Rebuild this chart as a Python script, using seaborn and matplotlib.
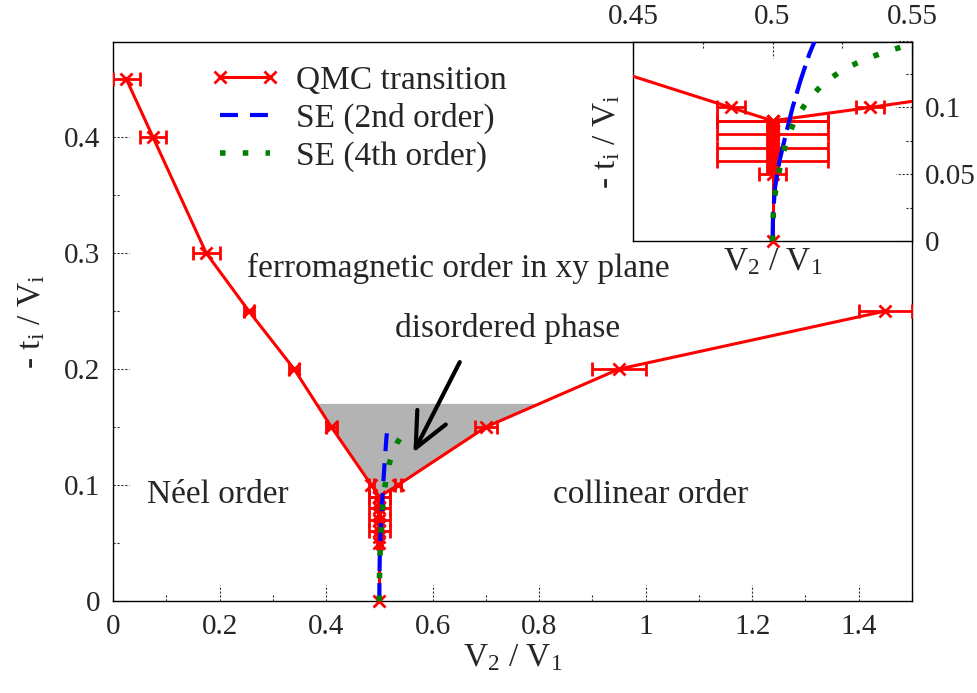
import numpy as np
import pandas as pd
import matplotlib
matplotlib.use("Agg")
import matplotlib.pyplot as plt
from matplotlib.lines import Line2D
from matplotlib.patches import FancyArrowPatch, ArrowStyle
import seaborn as sns

# ---------------- data ----------------
# QMC transition: left branch (Neel / ferro boundary)
qmc_left_x = [0.025, 0.075, 0.175, 0.255, 0.34, 0.41, 0.485, 0.5]
qmc_left_y = [0.45, 0.40, 0.30, 0.25, 0.20, 0.15, 0.10, 0.09]
qmc_left_xerr = [0.025, 0.025, 0.025, 0.01, 0.01, 0.01, 0.005, 0.02]
# vertical branch at V2/V1 = 0.5
qmc_mid_x = [0.5, 0.5, 0.5, 0.5, 0.5, 0.5, 0.5, 0.5, 0.5, 0.5]
qmc_mid_y = [0.09, 0.085, 0.08, 0.075, 0.07, 0.065, 0.06, 0.055, 0.05, 0.0]
qmc_mid_xerr = [0.02, 0.002, 0.02, 0.002, 0.02, 0.002, 0.02, 0.002, 0.005, 0.0]
# right branch (collinear / ferro boundary)
qmc_right_x = [0.5, 0.535, 0.70, 0.95, 1.45]
qmc_right_y = [0.09, 0.10, 0.15, 0.20, 0.25]
qmc_right_xerr = [0.02, 0.005, 0.02, 0.05, 0.05]

# series expansion, 2nd order
se2_x = [0.5, 0.5002, 0.5009, 0.5025, 0.5048, 0.5072, 0.5100, 0.5132, 0.5152]
se2_y = [0.0, 0.02, 0.04, 0.06, 0.08, 0.10, 0.12, 0.14, 0.15]
# series expansion, 4th order
se4_x = [0.5, 0.5003, 0.5011, 0.5027, 0.5047, 0.5077, 0.5125, 0.518, 0.525, 0.533, 0.541, 0.55]
se4_y = [0.0, 0.0208, 0.0378, 0.0555, 0.0725, 0.0892, 0.105, 0.1175, 0.128, 0.136, 0.142, 0.1475]

disordered_top = 0.17

main_xticks = [0, 0.2, 0.4, 0.6, 0.8, 1.0, 1.2, 1.4]
main_xticklabels = ["0", "0.2", "0.4", "0.6", "0.8", "1", "1.2", "1.4"]
main_yticks = [0, 0.1, 0.2, 0.3, 0.4]
main_yticklabels = ["0", "0.1", "0.2", "0.3", "0.4"]
inset_xticks = [0.45, 0.5, 0.55]
inset_xticklabels = ["0.45", "0.5", "0.55"]
inset_yticks = [0, 0.05, 0.1]
inset_yticklabels = ["0", "0.05", "0.1"]

# ---------------- style ----------------
sns.set_theme(style="white")
plt.rcParams["font.family"] = ["Liberation Serif", "DejaVu Serif"]
plt.rcParams["mathtext.fontset"] = "custom"
plt.rcParams["mathtext.rm"] = "Liberation Serif"
plt.rcParams["mathtext.it"] = "Liberation Serif:italic"
plt.rcParams["axes.edgecolor"] = "black"
plt.rcParams["axes.linewidth"] = 1.0

FS_TICK = 21
FS = 24
RED = "#ff0000"
BLUE = "#0000ff"
GREEN = "#008000"

W, H = 977, 693
fig = plt.figure(figsize=(W / 100, H / 100), dpi=100)
main_rect = [113 / W, 1 - 601 / H, (912 - 113) / W, (601 - 42) / H]
inset_rect = [633 / W, 1 - 241 / H, (912 - 633) / W, (241 - 42) / H]
ax = fig.add_axes(main_rect)
axi = fig.add_axes(inset_rect)
axi.set_zorder(5)

ax.set_xlim(0, 1.5)
ax.set_ylim(0, 0.482)
axi.set_xlim(0.45, 0.55)
axi.set_ylim(0, 0.149)

def draw_curves(a, se2_dash, se4_dash):
    x0, x1 = a.get_xlim()
    y0, y1 = a.get_ylim()
    for xs, ys in [(qmc_left_x, qmc_left_y), (qmc_mid_x, qmc_mid_y), (qmc_right_x, qmc_right_y)]:
        df = pd.DataFrame({"x": xs, "y": ys})
        sns.lineplot(data=df, x="x", y="y", ax=a, sort=False, estimator=None,
                     color=RED, lw=2.2, zorder=3, legend=False)
    for xs, ys, xe in [(qmc_left_x, qmc_left_y, qmc_left_xerr),
                       (qmc_mid_x, qmc_mid_y, qmc_mid_xerr),
                       (qmc_right_x, qmc_right_y, qmc_right_xerr)]:
        a.errorbar(xs, ys, xerr=xe, fmt="none", ecolor=RED, elinewidth=2.0,
                   capsize=4.8, capthick=2.0, zorder=3)
        xs_a = np.array(xs); ys_a = np.array(ys)
        m = (xs_a >= x0) & (xs_a <= x1) & (ys_a >= y0) & (ys_a <= y1)
        a.plot(xs_a[m], ys_a[m], "x", color=RED, ms=8.5, mew=2.0, zorder=4, clip_on=False)
    d2 = pd.DataFrame({"x": se2_x, "y": se2_y})
    sns.lineplot(data=d2, x="x", y="y", ax=a, sort=False, estimator=None,
                 color=BLUE, lw=3.0, ls=(0, se2_dash), zorder=5, legend=False)
    d4 = pd.DataFrame({"x": se4_x, "y": se4_y})
    sns.lineplot(data=d4, x="x", y="y", ax=a, sort=False, estimator=None,
                 color=GREEN, lw=4.0, ls=(0, se4_dash), zorder=6, legend=False,
                 dash_capstyle="butt")
    a.set_xlim(x0, x1)
    a.set_ylim(y0, y1)

# ---------------- main axes ----------------
# grey disordered region built from QMC branches below disordered_top
lx = np.array(qmc_left_x); ly = np.array(qmc_left_y)
rx = np.array(qmc_right_x); ry = np.array(qmc_right_y)
xl = np.interp(disordered_top, ly[::-1], lx[::-1])
xr = np.interp(disordered_top, ry, rx)
poly_x = [xl] + list(lx[ly < disordered_top]) + list(rx[1:][ry[1:] < disordered_top]) + [xr]
poly_y = [disordered_top] + list(ly[ly < disordered_top]) + list(ry[1:][ry[1:] < disordered_top]) + [disordered_top]
ax.fill(poly_x, poly_y, color="#b3b3b3", lw=0, zorder=1)

draw_curves(ax, (4.3, 2.9), (1.0, 3.1))

ax.set_xticks(main_xticks, main_xticklabels)
ax.set_yticks(main_yticks, main_yticklabels)
ax.tick_params(length=0, labelsize=FS_TICK, pad=9)
ax.set_xlabel(r"$\mathrm{V}_{2}$ / $\mathrm{V}_{1}$", fontsize=FS, labelpad=2)
ax.set_ylabel(r"- $\mathrm{t}_{\mathrm{i}}$ / $\mathrm{V}_{\mathrm{i}}$", fontsize=FS, labelpad=12)
for s in ax.spines.values():
    s.set_visible(True)
    s.set_color("black")
    s.set_linewidth(1.0)

# dotted tick marks (gnuplot style)
ah, aw = 559.0, 799.0
tcol = "#333333"
for v in np.arange(0, 1.5001, 0.1):
    L = 15.7 / ah if round(v * 10) % 2 == 0 else 7.3 / ah
    ax.plot([v, v], [0, L], transform=ax.get_xaxis_transform(), color=tcol,
            lw=0.8, ls=(0, (2, 1.5)), zorder=2, clip_on=False)
for v in np.arange(0, 0.4801, 0.05):
    L = 15.7 / aw if round(v * 20) % 2 == 0 else 7.3 / aw
    ax.plot([0, L], [v, v], transform=ax.get_yaxis_transform(), color=tcol,
            lw=0.8, ls=(0, (2, 1.5)), zorder=2, clip_on=False)

# annotations
ax.text(0.648, 0.287, "ferromagnetic order in xy plane", fontsize=FS, ha="center", va="center", zorder=7)
ax.text(0.74, 0.235, "disordered phase", fontsize=FS, ha="center", va="center", zorder=7)
ax.text(0.196, 0.092, "Néel order", fontsize=FS, ha="center", va="center", zorder=7)
ax.text(1.01, 0.092, "collinear order", fontsize=FS, ha="center", va="center", zorder=7)
arr = FancyArrowPatch((0.651, 0.206), (0.564, 0.128),
                      arrowstyle=ArrowStyle("->", head_length=2.5, head_width=1.15),
                      mutation_scale=10, lw=3.0, color="black", zorder=8,
                      shrinkA=0, shrinkB=0)
ax.add_patch(arr)

handles = [
    Line2D([], [], color=RED, lw=2.2, marker="x", ms=8.5, mew=2.0),
    Line2D([], [], color=BLUE, lw=3.0, ls=(0, (4.3, 2.9))),
    Line2D([], [], color=GREEN, lw=4.0, ls=(0, (1.0, 3.1))),
]
labels = ["QMC transition", "SE (2nd order)", "SE (4th order)"]
ax.legend(handles, labels, loc="upper left", bbox_to_anchor=(0.121, 0.958),
          frameon=False, fontsize=FS, numpoints=2, handlelength=2.1,
          handletextpad=0.5, labelspacing=0.2, borderpad=0, borderaxespad=0)

# ---------------- inset ----------------
axi.set_facecolor("white")
draw_curves(axi, (7.0, 2.0), (1.0, 3.1))
axi.set_xticks(inset_xticks, inset_xticklabels)
axi.set_yticks(inset_yticks, inset_yticklabels)
axi.xaxis.tick_top()
axi.yaxis.tick_right()
axi.tick_params(length=0, labelsize=FS_TICK, pad=9)
axi.set_xlabel(r"$\mathrm{V}_{2}$ / $\mathrm{V}_{1}$", fontsize=FS, labelpad=4)
axi.xaxis.set_label_position("bottom")
axi.set_ylabel(r"- $\mathrm{t}_{\mathrm{i}}$ / $\mathrm{V}_{\mathrm{i}}$", fontsize=FS, labelpad=8)
axi.yaxis.set_label_position("left")
for s in axi.spines.values():
    s.set_visible(True)
    s.set_color("black")
    s.set_linewidth(1.0)
ih, iw = 199.0, 279.0
for v in np.arange(0.45, 0.5501, 0.025):
    L = 15.7 / ih if round(v * 40) % 2 == 0 else 7.3 / ih
    axi.plot([v, v], [1, 1 - L], transform=axi.get_xaxis_transform(), color=tcol,
             lw=0.8, ls=(0, (2, 1.5)), zorder=2, clip_on=False)
for v in np.arange(0, 0.1501, 0.025):
    L = 15.7 / iw if round(v * 40) % 2 == 0 else 7.3 / iw
    axi.plot([1, 1 - L], [v, v], transform=axi.get_yaxis_transform(), color=tcol,
             lw=0.8, ls=(0, (2, 1.5)), zorder=2, clip_on=False)

fig.savefig("out.png", dpi=100)
